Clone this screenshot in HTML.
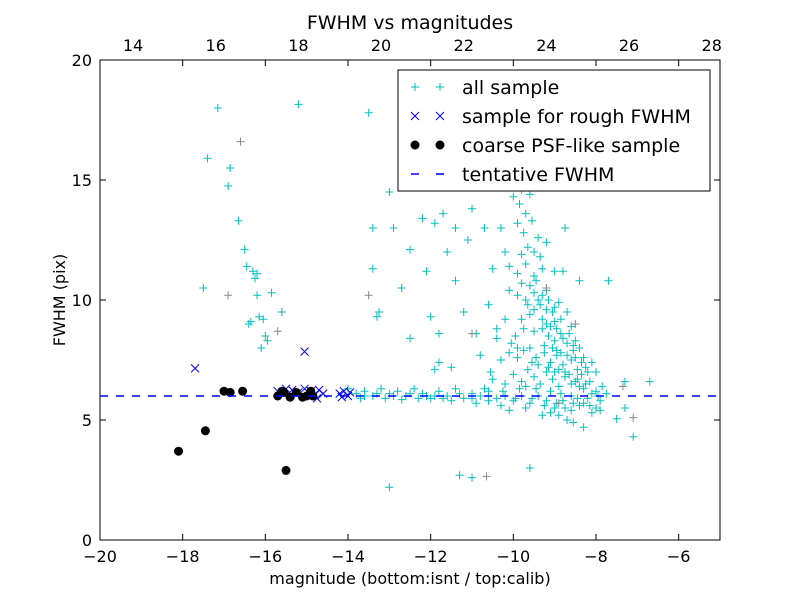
<!DOCTYPE html>
<html><head><meta charset="utf-8"><style>
body{margin:0;background:#fff;font-family:"DejaVu Sans",sans-serif}
svg text{font-family:"DejaVu Sans",sans-serif}
</style></head><body>
<svg id="chart" width="800" height="600" xmlns="http://www.w3.org/2000/svg">
<rect width="800" height="600" fill="#fff"/>
<g id="marks"></g>
<g id="axes"></g>
</svg>
<script>
const xTicks=[-20,-18,-16,-14,-12,-10,-8,-6];
const topTicks=[14,16,18,20,22,24,26,28];
const yTicks=[0,5,10,15,20];
const tentativeFwhm=6.0;
const allSample=[[-17.15,18.0],[-17.4,15.9],[-16.85,15.5],[-16.9,14.75],[-16.65,13.3],[-16.5,12.1],[-16.45,11.4],[-16.3,11.2],[-16.25,10.9],[-16.2,11.1],[-17.5,10.5],[-16.4,9.0],[-16.35,9.1],[-16.15,9.3],[-16.05,9.2],[-16.1,8.0],[-15.95,8.3],[-16.0,8.5],[-15.6,9.5],[-15.85,10.3],[-16.2,10.2],[-15.2,18.15],
[-13.5,17.8],[-13.4,13.0],[-13.4,11.3],[-13.3,9.3],[-13.25,9.5],[-13.0,14.5],[-12.9,13.0],[-12.7,10.5],[-12.5,12.1],[-12.5,8.4],[-12.2,13.4],[-12.1,11.2],[-12.0,9.3],[-11.9,13.2],[-11.7,13.6],[-11.8,8.6],[-11.6,12.0],[-11.4,13.0],[-11.3,16.0],[-11.1,12.5],[-11.0,13.8],[-10.8,16.5],[-10.7,13.0],[-10.6,9.8],[-10.5,11.3],[-10.4,15.8],[-10.3,13.0],[-10.2,12.0],[-10.9,8.6],[-11.2,9.5],[-11.5,7.2],[-11.9,7.1],[-10.8,7.7],[-10.55,7.0],[-10.4,8.8],[-11.4,10.8],[-11.8,7.4],
[-10.0,14.3],[-9.8,14.6],[-9.6,14.4],[-9.9,13.2],[-9.75,12.8],[-9.55,13.3],[-9.4,12.6],[-10.1,11.4],[-9.9,11.1],[-9.7,11.5],[-9.5,11.0],[-9.3,11.3],[-9.2,10.4],[-9.0,11.2],[-8.8,11.2],[-8.4,10.8],[-7.7,10.8],[-8.75,13.0],
[-10.1,10.4],[-9.9,10.2],[-9.7,10.0],[-9.5,10.3],[-9.35,9.8],[-9.2,9.6],[-9.05,9.5],[-8.9,9.9],[-8.7,9.5],[-9.6,9.4],[-9.8,9.2],[-10.2,9.2],[-10.4,8.4],[-9.95,8.5],[-9.75,8.8],[-9.5,8.7],[-9.3,8.8],[-9.15,8.5],[-9.0,8.3],[-8.85,8.6],[-8.7,8.2],[-8.55,8.1],[-8.4,8.0],[-8.3,7.6],
[-10.3,7.5],[-10.1,7.8],[-9.9,7.6],[-9.75,7.9],[-9.6,8.0],[-9.45,7.6],[-9.25,7.8],[-9.1,7.4],[-8.95,7.7],[-8.8,7.3],[-8.6,7.5],[-8.45,7.1],[-8.25,7.2],[-8.1,7.4],[-8.0,7.0],[-7.85,6.4],
[-10.5,6.7],[-10.2,6.5],[-10.0,6.9],[-9.8,6.6],[-9.65,7.1],[-9.5,6.8],[-9.35,6.5],[-9.2,7.0],[-9.05,6.7],[-8.9,6.4],[-8.75,6.8],[-8.6,6.5],[-8.45,6.7],[-8.3,6.3],[-8.15,6.6],[-8.0,6.2],[-7.75,6.1],[-7.3,6.6],[-6.7,6.6],
[-14.0,6.3],[-13.8,6.1],[-13.6,6.2],[-13.4,6.0],[-13.2,6.3],[-13.0,6.1],[-12.8,6.2],[-12.6,6.0],[-12.4,6.3],[-12.2,6.1],[-12.0,5.9],[-11.8,6.2],[-11.6,6.0],[-11.4,6.3],[-11.2,5.9],[-11.0,6.1],[-10.8,6.0],[-10.6,6.2],[-10.4,5.9],[-10.2,6.0],[-10.0,5.8],[-9.8,6.0],[-9.6,5.7],[-9.4,6.0],[-9.2,5.8],[-9.0,5.5],[-8.8,5.8],[-8.6,5.4],[-8.4,5.6],[-8.2,5.9],[-8.0,5.5],[-7.9,5.8],
[-13.7,5.9],[-13.1,5.9],[-12.7,5.85],[-12.3,5.9],[-11.9,6.0],[-11.5,5.8],[-10.9,5.7],[-10.3,5.6],[-9.7,5.5],[-9.1,5.3],[-8.7,5.0],[-8.1,5.3],[-9.3,5.2],[-10.1,5.4],
[-13.0,2.2],[-11.3,2.7],[-11.0,2.6],[-9.6,3.0],[-8.3,4.7],[-7.5,5.05],[-7.1,4.3],[-7.3,5.5],[-7.9,5.4],
[-9.3,9.2],[-9.2,9.0],[-9.1,8.9],[-9.0,9.1],[-8.95,8.8],[-8.85,9.2],[-8.8,8.4],[-8.65,8.6],[-8.6,8.9],[-8.5,8.3],[-9.25,8.1],[-9.05,8.0],[-8.95,7.9],[-8.85,7.8],[-8.7,7.7],[-8.55,7.9],[-8.5,7.6],[-8.35,7.4],[-8.2,7.0],[-9.15,7.2],[-9.0,7.0],[-8.9,7.1],[-8.75,7.0],[-8.65,6.9],[-8.5,6.6],[-8.35,6.9],[-8.4,6.4],[-8.25,6.5],[-8.1,6.1],[-7.95,6.0],[-9.4,7.3],[-9.55,7.4],[-9.7,6.4],[-9.85,6.3],[-9.45,6.3],[-9.1,6.2],[-8.85,6.1],[-8.6,6.0],[-8.45,5.9],[-8.3,5.7],[-8.15,5.6],[-9.5,9.6],[-9.4,10.0],[-9.3,10.2],[-9.15,10.0],[-9.0,9.7],[-9.6,10.6],[-9.45,10.8],[-9.8,10.7],[-9.65,9.8],[-9.9,8.0],[-10.05,8.2],[-10.25,6.2],[-10.7,6.3],[-11.0,5.9],[-11.3,6.1],[-11.7,5.9],[-12.1,6.0],[-12.5,6.1],[-12.9,6.0],[-13.3,6.1],[-13.6,6.0],[-10.6,5.8],[-9.95,5.9],[-9.55,5.9],[-9.25,5.6],[-8.95,5.7],[-8.75,5.5],[-8.55,5.7],[-8.9,5.2],[-8.55,4.9],[-9.5,12.0],[-9.65,12.2],[-9.8,11.9],[-9.35,11.8],[-9.2,12.4],[-9.7,13.6],[-9.85,14.0],[-9.4,14.8]];
const otherSample=[[-16.9,10.2],[-15.7,8.7],[-16.6,16.6],[-13.5,10.2],[-10.65,2.65],[-7.1,5.1],[-9.2,10.5],[-8.5,9.0],[-7.35,6.4],[-11.0,8.6],[-8.9,5.7]];
const roughSample=[[-17.7,7.15],[-15.05,7.85],[-15.7,6.2],[-15.5,6.3],[-15.35,6.25],[-15.2,6.15],[-15.05,6.3],[-14.9,6.2],[-14.8,6.05],[-14.7,6.25],[-14.6,6.1],[-15.4,6.05],[-14.2,6.1],[-14.1,6.2],[-14.0,6.0],[-13.95,6.15],[-14.15,5.95],[-14.75,5.9]];
const coarseSample=[[-18.1,3.7],[-17.45,4.55],[-17.0,6.2],[-16.85,6.15],[-16.55,6.2],[-15.7,6.0],[-15.55,6.15],[-15.4,5.95],[-15.25,6.15],[-15.1,5.95],[-15.0,6.0],[-14.9,6.2],[-14.85,6.0],[-15.6,6.2],[-15.5,2.9]];
const L=100,R=720,T=60,B=540;
const xS=v=>L+(v+20)/15*(R-L);
const tS=v=>xS(v-33.2);
const yS=v=>B-v/20*(B-T);
const NS="http://www.w3.org/2000/svg";
const marks=document.getElementById('marks'),axes=document.getElementById('axes');
function mk(tag,at,par){const e=document.createElementNS(NS,tag);for(const k in at)e.setAttribute(k,at[k]);par.appendChild(e);return e;}
function plus(x,y){return `M${x-4},${y}h8M${x},${y-4}v8`;}
let d='';allSample.forEach(p=>d+=plus(xS(p[0]),yS(p[1])));
let e=mk('path',{d:d,stroke:'#00bfbf','stroke-width':1,fill:'none'},marks);


d='';otherSample.forEach(p=>d+=plus(xS(p[0]),yS(p[1])));
e=mk('path',{d:d,stroke:'#888','stroke-width':1,fill:'none'},marks);


d='';roughSample.forEach(p=>{const x=xS(p[0]),y=yS(p[1]);d+=`M${x-4},${y-4}l8,8M${x-4},${y+4}l8,-8`;});
e=mk('path',{d:d,stroke:'#0000ff','stroke-width':1,fill:'none'},marks);


coarseSample.forEach(p=>{const c=mk('circle',{cx:xS(p[0]),cy:yS(p[1]),r:4.5,fill:'#000'},marks);

});
e=mk('line',{x1:L,x2:R,y1:yS(tentativeFwhm),y2:yS(tentativeFwhm),stroke:'#0000ff','stroke-width':1.5,'stroke-dasharray':'8,8'},marks);


e=mk('rect',{x:L,y:T,width:R-L,height:B-T,fill:'none',stroke:'#000','stroke-width':1},axes);


function txt(x,y,s,a,sz,par){const t=mk('text',{x:x,y:y,'text-anchor':a,'font-size':sz,fill:'#000'},par);t.textContent=s;return t;}
xTicks.forEach(v=>{const x=xS(v);mk('path',{d:`M${x},${B}v-6M${x},${T}v6`,stroke:'#000'},axes);
const t=txt(x,B+22,v<0?'\u2212'+(-v):v,'middle',16,axes);});
topTicks.forEach(v=>{const x=tS(v);const t=txt(x,T-9,v,'middle',16,axes);});
yTicks.forEach(v=>{const y=yS(v);mk('path',{d:`M${L},${y}h6M${R},${y}h-6`,stroke:'#000'},axes);
const t=txt(L-8,y+6,v,'end',16,axes);});
let t=txt(410,29,'FWHM vs magnitudes','middle',19,axes);
t=txt(410,584,'magnitude (bottom:isnt / top:calib)','middle',16,axes);
t=txt(0,0,'FWHM (pix)','middle',16,axes);t.setAttribute('transform','translate(65,300) rotate(-90)');
const lg=mk('g',{},axes);
mk('rect',{x:398,y:70,width:312,height:121,fill:'#fff',stroke:'#000'},lg);
const rows=['all sample','sample for rough FWHM','coarse PSF-like sample','tentative FWHM'];
rows.forEach((s,i)=>{const y=87+i*29;
if(i==0){mk('path',{d:plus(415,y)+plus(440,y),stroke:'#00bfbf',fill:'none'},lg);}
if(i==1){mk('path',{d:`M411,${y-4}l8,8M411,${y+4}l8,-8M436,${y-4}l8,8M436,${y+4}l8,-8`,stroke:'#00f',fill:'none'},lg);}
if(i==2){mk('circle',{cx:415,cy:y,r:4.5},lg);mk('circle',{cx:440,cy:y,r:4.5},lg);}
if(i==3){mk('path',{d:`M411,${y}h8M436,${y}h8`,stroke:'#00f','stroke-width':1.5},lg);}
const tt=txt(462,y+7,s,'start',19,lg);});
</script>
</body></html>
